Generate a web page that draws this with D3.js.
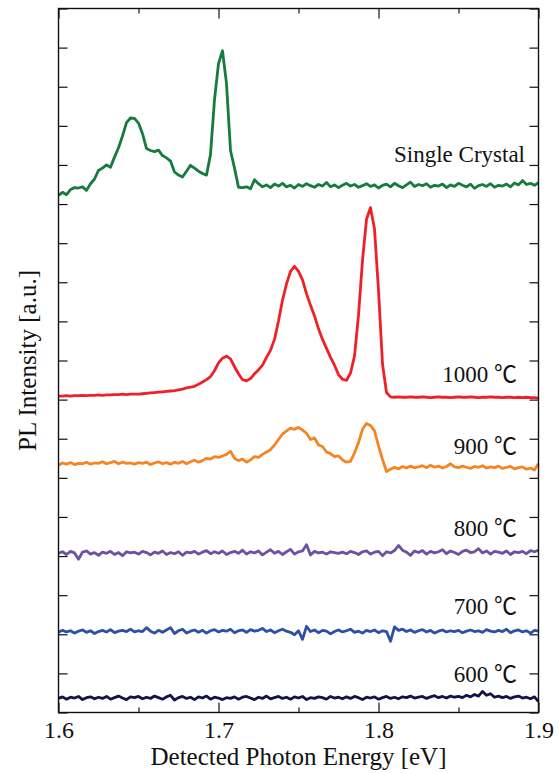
<!DOCTYPE html>
<html>
<head>
<meta charset="utf-8">
<script src="https://cdn.jsdelivr.net/npm/d3@7.9.0/dist/d3.min.js"></script>
<style>
  html, body { margin: 0; padding: 0; background: #fff; }
  svg { display: block; }
  text { font-family: "Liberation Serif", "Times New Roman", serif; fill: #111; }
  .deg { font-family: "Noto Sans CJK JP", "Noto Sans CJK SC", "DejaVu Sans", sans-serif; }
</style>
</head>
<body>
<svg id="chart" width="559" height="773"></svg>
<script>
// energy grid: 1.6 .. 1.9 eV, 0.0025 eV step (121 samples per spectrum)
const step = 0.0025;
const energy = d3.range(121).map((i) => 1.6 + i * step);

// stack offsets (in tick units, 1 tick = 1 a.u.)
const labels = ["600 ℃", "700 ℃", "800 ℃", "900 ℃", "1000 ℃", "Single Crystal"];
const offsets = [0.36, 2.05, 4.07, 6.32, 8.06, 13.22];
const colors = ["#121348", "#2e50a4", "#6a52a3", "#f58522", "#ee2127", "#167b3d"];

// PL intensity relative to each offset
const pl600 = [
  0.00,0.04,-0.02,0.03,0.01,0.05,-0.03,0.02,0.04,-0.01,
  0.03,0.00,0.05,-0.02,0.02,0.06,0.01,-0.03,0.04,0.02,
  0.05,-0.01,0.03,0.00,0.06,0.02,-0.02,0.04,0.08,-0.04,
  0.02,0.05,0.00,0.03,-0.03,0.04,0.01,0.06,-0.02,0.03,
  0.01,-0.03,0.02,0.00,0.04,-0.02,0.03,0.05,0.01,-0.03,
  0.03,0.00,0.06,-0.01,0.02,0.05,0.00,0.03,-0.02,0.04,
  0.01,0.05,-0.03,0.02,0.00,0.04,0.02,-0.02,0.05,0.01,
  0.03,-0.01,0.04,0.00,0.05,0.02,-0.03,0.03,0.01,0.04,
  -0.02,0.02,0.05,0.00,0.03,-0.01,0.04,0.02,0.06,0.01,
  0.03,0.05,0.00,0.04,0.07,0.02,0.05,0.01,0.06,0.03,
  0.05,0.02,0.08,0.04,0.10,0.06,0.18,0.08,0.12,0.03,
  0.06,0.02,0.05,0.00,0.04,0.06,0.01,0.03,-0.01,0.04,
  -0.08
];
const pl700 = [
  0.00,0.05,0.01,0.04,-0.02,0.03,0.06,0.00,0.04,-0.03,
  0.02,0.05,0.01,0.07,-0.01,0.03,0.05,0.02,0.08,0.01,
  0.04,0.02,0.12,0.03,-0.02,0.05,0.00,0.06,0.12,-0.03,
  0.04,0.08,-0.02,0.03,0.06,0.00,0.05,-0.02,0.04,0.07,
  0.01,0.05,0.03,0.08,-0.01,0.04,0.06,0.00,0.07,0.03,
  0.05,0.10,0.02,0.06,-0.01,0.04,0.08,0.03,0.00,-0.06,
  0.04,-0.18,0.15,0.02,0.06,-0.01,0.05,0.03,-0.04,0.02,
  0.06,0.01,0.04,0.08,0.00,0.03,-0.02,0.05,0.02,0.06,
  -0.01,0.04,0.02,-0.23,0.14,0.05,0.08,0.02,0.06,0.00,
  0.04,0.07,0.01,0.05,-0.02,0.03,0.06,0.01,0.04,0.02,
  0.05,-0.01,0.03,0.06,0.02,0.04,0.00,0.07,0.03,0.01,
  0.05,0.02,0.08,-0.01,0.04,0.06,0.01,0.04,-0.02,0.05,
  0.03
];
const pl800 = [
  0.00,0.04,-0.03,0.05,0.01,-0.15,0.03,0.06,-0.02,0.02,
  -0.05,0.03,0.00,0.05,-0.03,0.02,-0.06,0.04,0.01,0.03,
  -0.02,0.05,0.02,-0.04,0.03,0.00,0.06,-0.03,0.02,-0.01,
  0.04,-0.05,0.03,0.01,0.05,-0.02,0.03,0.07,-0.01,0.04,
  0.00,0.06,-0.03,0.02,0.05,0.00,0.08,-0.02,0.04,0.01,
  0.06,-0.04,0.03,0.09,0.00,0.05,-0.03,0.04,0.10,-0.02,
  0.04,0.06,0.22,-0.04,0.05,0.01,0.03,-0.02,0.04,0.02,
  0.00,0.03,-0.01,0.05,0.02,-0.03,0.04,0.06,-0.02,0.03,
  0.05,-0.06,0.04,0.01,0.07,0.20,0.08,0.03,-0.05,0.06,
  0.02,0.07,-0.02,0.05,0.01,0.04,0.09,-0.01,0.06,0.02,
  -0.03,0.05,0.08,0.02,0.04,0.12,0.01,0.06,-0.02,0.05,
  0.03,0.00,0.06,-0.03,0.04,0.02,0.05,-0.01,0.07,0.04,
  0.08
];
const pl900 = [
  0.00,0.06,0.03,0.07,0.02,0.05,0.04,0.08,0.03,0.06,
  0.05,0.09,0.04,0.07,0.10,0.04,0.08,0.05,0.06,0.03,
  0.07,0.05,0.08,0.02,0.06,0.09,0.04,0.07,0.03,0.08,
  0.05,0.10,0.04,0.09,0.13,0.08,0.12,0.18,0.16,0.22,
  0.20,0.24,0.28,0.36,0.18,0.12,0.16,0.08,0.14,0.22,
  0.20,0.28,0.34,0.40,0.52,0.66,0.80,0.88,0.95,0.92,
  0.97,0.90,0.82,0.66,0.70,0.52,0.48,0.34,0.30,0.22,
  0.24,0.14,0.08,0.10,0.32,0.58,0.92,1.07,1.02,0.88,
  0.50,0.15,-0.16,-0.10,-0.05,-0.09,-0.03,-0.07,-0.02,-0.06,
  -0.04,-0.01,-0.06,0.00,-0.05,-0.02,-0.07,-0.03,0.04,-0.04,
  -0.06,-0.02,-0.05,-0.08,-0.03,-0.05,-0.01,-0.07,-0.04,-0.06,
  -0.02,-0.08,-0.05,-0.03,-0.09,-0.06,-0.04,-0.10,-0.07,-0.12,
  0.05
];
const pl1000 = [
  0.03,0.03,0.04,0.03,0.04,0.04,0.05,0.04,0.05,0.05,
  0.06,0.05,0.06,0.06,0.07,0.07,0.08,0.07,0.08,0.08,
  0.08,0.09,0.10,0.11,0.12,0.13,0.14,0.15,0.16,0.17,
  0.19,0.21,0.24,0.26,0.28,0.33,0.39,0.45,0.53,0.68,
  0.88,1.00,1.05,0.98,0.78,0.60,0.45,0.42,0.48,0.60,
  0.70,0.82,1.02,1.20,1.48,1.95,2.48,2.90,3.22,3.35,
  3.22,3.00,2.65,2.35,2.08,1.75,1.48,1.25,1.02,0.82,
  0.58,0.46,0.43,0.62,1.05,2.10,3.50,4.55,4.85,4.30,
  2.74,0.85,0.12,0.01,0.00,0.01,0.00,0.00,0.01,0.00,
  0.00,0.01,0.00,-0.01,0.00,0.01,0.00,0.00,-0.01,0.00,
  0.01,0.00,0.00,0.01,0.00,-0.01,0.00,0.00,0.01,0.00,
  0.00,-0.01,0.00,0.00,-0.01,0.00,-0.01,0.00,-0.01,-0.01,
  -0.02
];
const plCrystal = [
  0.00,0.08,0.02,0.15,0.20,0.19,0.22,0.13,0.30,0.42,
  0.64,0.70,0.78,0.72,0.98,1.22,1.52,1.86,1.98,1.97,
  1.85,1.58,1.20,1.15,1.12,1.16,1.02,0.96,0.88,0.60,
  0.52,0.47,0.62,0.77,0.70,0.62,0.56,0.52,1.05,2.45,
  3.37,3.70,2.86,1.15,0.70,0.21,0.20,0.22,0.17,0.40,
  0.30,0.22,0.27,0.20,0.29,0.24,0.31,0.22,0.26,0.19,
  0.28,0.23,0.30,0.25,0.21,0.28,0.24,0.33,0.22,0.27,
  0.20,0.26,0.31,0.24,0.28,0.21,0.25,0.30,0.23,0.27,
  0.19,0.26,0.29,0.22,0.31,0.25,0.20,0.27,0.34,0.23,
  0.28,0.25,0.30,0.21,0.26,0.24,0.29,0.20,0.27,0.23,
  0.31,0.26,0.22,0.29,0.18,0.25,0.28,0.23,0.30,0.21,
  0.26,0.24,0.29,0.22,0.32,0.27,0.38,0.28,0.31,0.26,
  0.33
];
const spectra = [pl600, pl700, pl800, pl900, pl1000, plCrystal];

const xMajor = [1.6, 1.7, 1.8, 1.9];
const xMinor = [1.65, 1.75, 1.85];

const svg = d3.select("#chart");
const mLeft = 58.5, mRight = 538.5, mTop = 8.5, mBottom = 712.5;

const x = d3.scaleLinear().domain([1.6, 1.9]).range([mLeft, mRight]);
const y = d3.scaleLinear().domain([0, 18]).range([mBottom, mTop]);
const yTicks = d3.range(0, 19);

// axes, ticks pointing inward
function styleAxis(g) {
  g.select(".domain").remove();
  g.selectAll(".tick line").attr("stroke", "#111").attr("stroke-width", 1.2);
}

svg.append("g")
  .attr("transform", `translate(0,${mBottom})`)
  .call(d3.axisBottom(x).tickValues(xMajor).tickSize(-10).tickPadding(8).tickFormat(d3.format(".1f")))
  .call(styleAxis)
  .call((g) => g.selectAll("text").attr("font-size", 24).attr("font-family", "Liberation Serif").attr("fill", "#111"));
svg.append("g")
  .attr("transform", `translate(0,${mBottom})`)
  .call(d3.axisBottom(x).tickValues(xMinor).tickSize(-5).tickFormat(""))
  .call(styleAxis);
svg.append("g")
  .attr("transform", `translate(0,${mTop})`)
  .call(d3.axisTop(x).tickValues(xMajor).tickSize(-10).tickFormat(""))
  .call(styleAxis);
svg.append("g")
  .attr("transform", `translate(0,${mTop})`)
  .call(d3.axisTop(x).tickValues(xMinor).tickSize(-5).tickFormat(""))
  .call(styleAxis);
svg.append("g")
  .attr("transform", `translate(${mLeft},0)`)
  .call(d3.axisLeft(y).tickValues(yTicks).tickSize(-9).tickFormat(""))
  .call(styleAxis);
svg.append("g")
  .attr("transform", `translate(${mRight},0)`)
  .call(d3.axisRight(y).tickValues(yTicks).tickSize(-9).tickFormat(""))
  .call(styleAxis);

// spectra
const line = d3.line()
  .x((d) => x(d[0]))
  .y((d) => y(d[1]));

spectra.forEach((vals, k) => {
  const pts = vals.map((v, i) => [energy[i], v + offsets[k]]);
  svg.append("path")
    .datum(pts)
    .attr("d", line)
    .attr("fill", "none")
    .attr("stroke", colors[k])
    .attr("stroke-width", 2.8)
    .attr("stroke-linejoin", "round");
});

// frame
svg.append("rect")
  .attr("x", mLeft).attr("y", mTop)
  .attr("width", mRight - mLeft).attr("height", mBottom - mTop)
  .attr("fill", "none").attr("stroke", "#111").attr("stroke-width", 1.4);

// curve labels
const labelPos = [
  { x: 517, y: 682 }, { x: 517, y: 614 }, { x: 517, y: 536 },
  { x: 517, y: 454 }, { x: 517, y: 382 }, { x: 525, y: 162 }
];
labels.forEach((txt, k) => {
  const t = svg.append("text")
    .attr("x", labelPos[k].x).attr("y", labelPos[k].y)
    .attr("text-anchor", "end")
    .attr("font-size", 23);
  if (txt.endsWith("℃")) {
    t.append("tspan").text(txt.slice(0, -1));
    t.append("tspan").attr("class", "deg").text("℃");
  } else {
    t.text(txt);
  }
});

// axis titles
svg.append("text")
  .attr("x", (mLeft + mRight) / 2).attr("y", 765)
  .attr("text-anchor", "middle")
  .attr("font-size", 25)
  .text("Detected Photon Energy [eV]");

svg.append("text")
  .attr("transform", `translate(36,${(mTop + mBottom) / 2}) rotate(-90)`)
  .attr("text-anchor", "middle")
  .attr("font-size", 25)
  .text("PL Intensity [a.u.]");
</script>
</body>
</html>
